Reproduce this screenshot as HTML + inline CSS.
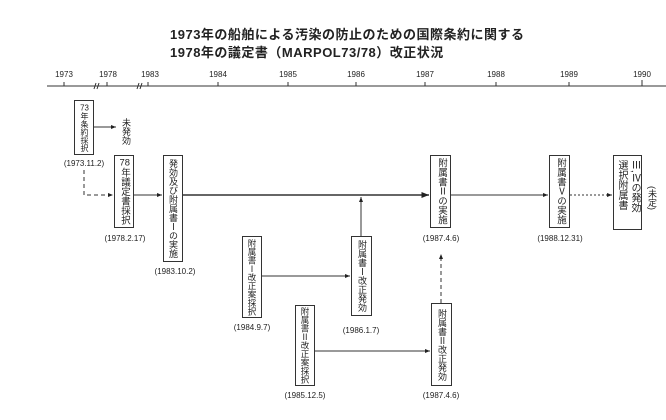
<!DOCTYPE html>
<html><head><meta charset="utf-8"><style>
body{margin:0;background:#fff;}
.w{position:relative;width:666px;height:420px;overflow:hidden;font-family:"Liberation Sans","Noto Sans CJK JP",sans-serif;color:#222;}
.t{position:absolute;font-size:13px;font-weight:bold;white-space:nowrap;letter-spacing:0.5px;}
.b{position:absolute;border:1px solid #333;box-sizing:border-box;writing-mode:vertical-rl;line-height:18px;text-align:center;white-space:nowrap;overflow:hidden;background:#fff;}
.c{text-combine-upright:all;}
.d{position:absolute;font-size:8px;white-space:nowrap;transform:translateX(-50%);}
.y{position:absolute;top:70px;font-size:8px;transform:translateX(-50%);}
.v{position:absolute;writing-mode:vertical-rl;font-size:10px;white-space:nowrap;}
</style></head><body><div class="w">
<div class="t" style="left:170px;top:24px;">1973年の船舶による汚染の防止のための国際条約に関する</div>
<div class="t" style="left:170px;top:42px;">1978年の議定書（MARPOL73/78）改正状況</div>
<svg width="666" height="420" style="position:absolute;left:0;top:0">
<defs><marker id="a" markerWidth="6" markerHeight="6" refX="5" refY="3" orient="auto"><path d="M0,1 L5,3 L0,5z" fill="#222"/></marker></defs>
<g stroke="#333" stroke-width="1" fill="none">
<line x1="47" y1="86" x2="666" y2="86"/>
<line x1="64" y1="82" x2="64" y2="86"/><line x1="107" y1="82" x2="107" y2="86"/><line x1="148" y1="82" x2="148" y2="86"/>
<line x1="218" y1="82" x2="218" y2="86"/><line x1="288" y1="82" x2="288" y2="86"/><line x1="356" y1="82" x2="356" y2="86"/>
<line x1="425" y1="82" x2="425" y2="86"/><line x1="496" y1="82" x2="496" y2="86"/><line x1="569" y1="82" x2="569" y2="86"/><line x1="642" y1="80" x2="642" y2="86"/>
<path d="M96,83 l-2,6 M99,83 l-2,6 M139,83 l-2,6 M142,83 l-2,6"/>
<line x1="93" y1="127" x2="116" y2="127" marker-end="url(#a)"/>
<path d="M84,170 V195 H113" stroke-dasharray="4,3" marker-end="url(#a)"/>
<line x1="134" y1="195" x2="162" y2="195" marker-end="url(#a)"/>
<line x1="183" y1="195" x2="429" y2="195" stroke-width="1.5" marker-end="url(#a)"/>
<line x1="451" y1="195" x2="548" y2="195" marker-end="url(#a)"/>
<line x1="570" y1="195" x2="612" y2="195" stroke-dasharray="2,2" marker-end="url(#a)"/>
<line x1="361" y1="236" x2="361" y2="197" marker-end="url(#a)"/>
<line x1="262" y1="276" x2="350" y2="276" marker-end="url(#a)"/>
<line x1="315" y1="351" x2="430" y2="351" marker-end="url(#a)"/>
<line x1="441" y1="303" x2="441" y2="254" stroke-dasharray="4,3" marker-end="url(#a)"/>
</g></svg>
<div class="y" style="left:64px">1973</div><div class="y" style="left:108px">1978</div><div class="y" style="left:150px">1983</div>
<div class="y" style="left:218px">1984</div><div class="y" style="left:288px">1985</div><div class="y" style="left:356px">1986</div>
<div class="y" style="left:425px">1987</div><div class="y" style="left:496px">1988</div><div class="y" style="left:569px">1989</div><div class="y" style="left:642px">1990</div>
<div class="b" style="left:74px;top:100px;width:20px;height:55px;font-size:8px;"><span class="c">73</span>年条約採択</div>
<div class="v" style="left:120px;top:118px;font-size:9px;">未発効</div>
<div class="d" style="left:84px;top:159px;">(1973.11.2)</div>
<div class="b" style="left:114px;top:155px;width:20px;height:73px;font-size:9.5px;"><span class="c">78</span>年議定書採択</div>
<div class="d" style="left:125px;top:234px;">(1978.2.17)</div>
<div class="b" style="left:163px;top:155px;width:20px;height:107px;font-size:9px;">発効及び附属書Ⅰの実施</div>
<div class="d" style="left:175px;top:267px;">(1983.10.2)</div>
<div class="b" style="left:430px;top:155px;width:21px;height:73px;font-size:9.5px;">附属書Ⅱの実施</div>
<div class="d" style="left:441px;top:234px;">(1987.4.6)</div>
<div class="b" style="left:549px;top:155px;width:21px;height:73px;font-size:9.5px;">附属書Ⅴの実施</div>
<div class="d" style="left:560px;top:234px;">(1988.12.31)</div>
<div class="b" style="left:613px;top:155px;width:29px;height:75px;line-height:13px;font-size:10px;text-align:start;padding-top:4px;">Ⅲ,Ⅳの発効<br>選択附属書</div>
<div class="v" style="left:646px;top:186px;font-size:9px;">(未定)</div>
<div class="b" style="left:242px;top:236px;width:20px;height:82px;font-size:8.5px;">附属書Ⅰ改正案採択</div>
<div class="d" style="left:252px;top:323px;">(1984.9.7)</div>
<div class="b" style="left:351px;top:236px;width:21px;height:80px;font-size:9px;">附属書Ⅰ改正発効</div>
<div class="d" style="left:361px;top:326px;">(1986.1.7)</div>
<div class="b" style="left:295px;top:305px;width:20px;height:81px;font-size:8.5px;">附属書Ⅱ改正案採択</div>
<div class="d" style="left:305px;top:391px;">(1985.12.5)</div>
<div class="b" style="left:431px;top:303px;width:21px;height:83px;font-size:9px;">附属書Ⅱ改正発効</div>
<div class="d" style="left:441px;top:391px;">(1987.4.6)</div>
</div></body></html>
